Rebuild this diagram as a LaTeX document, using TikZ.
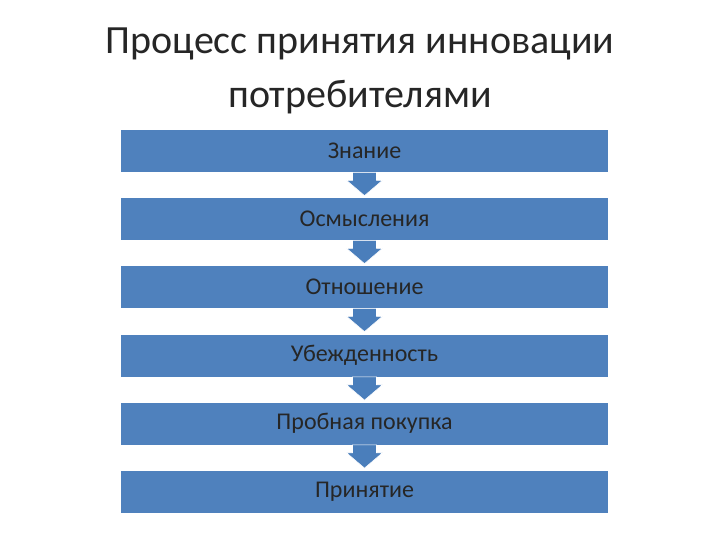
\documentclass[tikz,border=0pt]{standalone}
\usepackage{fontspec}
\setmainfont{Carlito}
\definecolor{bx}{HTML}{4F81BD}
\definecolor{ar}{HTML}{4A7EBB}
\begin{document}
\begin{tikzpicture}[x=0.75pt,y=-0.75pt,
  stepbox/.style={fill=bx,minimum width=365.25pt,minimum height=31.5pt,inner sep=0pt,text=black!85,font=\fontsize{18}{21}\selectfont},
  arr/.style={fill=ar,draw=white,line width=0.4pt}]
\useasboundingbox (0,0) rectangle (720,540);
\node[align=center,text=black!85,font=\fontsize{30}{40}\selectfont] (t) at (360,71) {Процесс принятия инновации\\потребителями};
\foreach \n/\y/\s in {a/151/Знание,b/219/Осмысления,c/287/Отношение,d/355.5/Убежденность,e/423.5/Пробная покупка,f/491.5/Принятие}
  \node[stepbox] (\n) at (364.5,\y) {\s};
\foreach \u in {a,b,c,d,e}{
  \filldraw[arr] ([xshift=-9pt]\u.south) -- ([xshift=-9pt,yshift=-6pt]\u.south) -- ([xshift=-13.5pt,yshift=-6pt]\u.south) -- ([yshift=-17.5pt]\u.south) -- ([xshift=13.5pt,yshift=-6pt]\u.south) -- ([xshift=9pt,yshift=-6pt]\u.south) -- ([xshift=9pt]\u.south) -- cycle;
}
\end{tikzpicture}
\end{document}
